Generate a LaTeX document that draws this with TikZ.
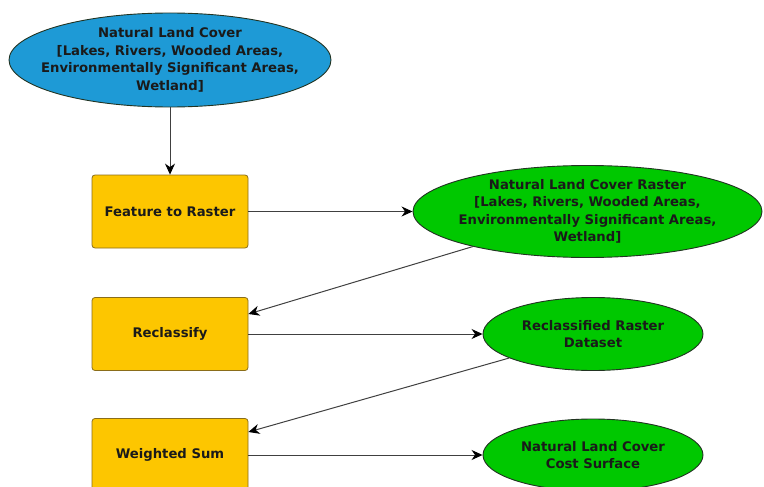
\documentclass[tikz,border=0pt]{standalone}
\usepackage{fontspec}
\setmainfont{DejaVu Sans}
\usetikzlibrary{shapes.geometric,arrows.meta}
\definecolor{bluefill}{HTML}{1E9AD6}
\definecolor{greenfill}{HTML}{00C800}
\definecolor{yellowfill}{HTML}{FDC600}
\definecolor{boxborder}{HTML}{8A6D1A}
\definecolor{ellborder}{HTML}{223322}
\definecolor{txt}{HTML}{1A1A1A}
\tikzset{
  lbl/.style={font=\bfseries\fontsize{13.2}{17.5}\selectfont, text=txt, align=center, inner sep=0pt},
  procbox/.style={lbl, draw=boxborder, fill=yellowfill, rounded corners=3pt, line width=0.8pt,
    minimum width=156pt, minimum height=73pt},
  ellbase/.style={lbl, ellipse, draw=ellborder, line width=0.9pt, inner xsep=-40pt, inner ysep=-14pt},
  bluell/.style={ellbase, fill=bluefill},
  greenell/.style={ellbase, fill=greenfill},
  conn/.style={draw=black!75, line width=1pt, -{Stealth[length=11pt,width=10pt,inset=3.5pt,color=black]}}
}
\begin{document}
\begin{tikzpicture}[x=1pt,y=-1pt]
\useasboundingbox (0,0) rectangle (764,487);
\node[bluell, minimum width=322pt, minimum height=94pt] (nlc) at (170,60)
  {Natural Land Cover\\{}[Lakes, Rivers, Wooded Areas,\\Environmentally Significant Areas,\\Wetland]};
\node[procbox] (ftr) at (170,211.5) {Feature to Raster};
\node[greenell, minimum width=349pt, minimum height=92pt] (nlcr) at (587.5,211.5)
  {Natural Land Cover Raster\\{}[Lakes, Rivers, Wooded Areas,\\Environmentally Significant Areas,\\Wetland]};
\node[procbox] (rc) at (170,334) {Reclassify};
\node[greenell, minimum width=220pt, minimum height=73pt] (rrd) at (593,334)
  {Reclassified Raster\\Dataset};
\node[procbox] (ws) at (170,455) {Weighted Sum};
\node[greenell, minimum width=220pt, minimum height=72pt] (nlccs) at (593,455)
  {Natural Land Cover\\Cost Surface};
\draw[conn] (nlc.south) -- (ftr.north);
\draw[conn] (ftr.east) -- (nlcr.west);
\draw[conn] (nlcr.197) -- ([yshift=20pt]rc.east);
\draw[conn] (rc.east) -- (rrd.west);
\draw[conn] (rrd.196) -- ([yshift=23pt]ws.east);
\draw[conn] (ws.east) -- (nlccs.west);
\end{tikzpicture}
\end{document}
